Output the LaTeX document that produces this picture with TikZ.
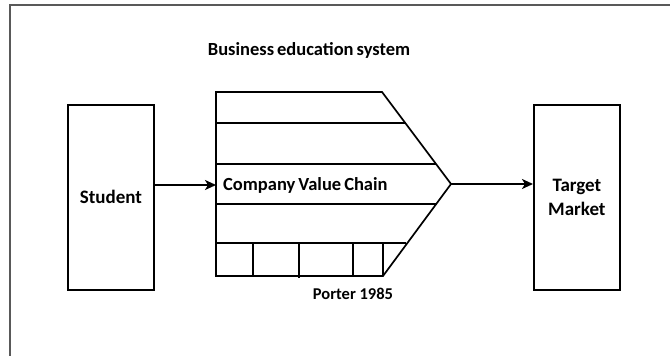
\documentclass[tikz,border=0pt]{standalone}
\usepackage{fontspec}
\setmainfont{Carlito}
\usetikzlibrary{arrows.meta}
\begin{document}
\begin{tikzpicture}[x=1pt,y=-1pt,
  box/.style={draw,line width=1.8pt,minimum width=86pt,minimum height=185pt,inner sep=0pt,anchor=north west,align=center,font=\bfseries\fontsize{19}{24}\selectfont},
  ln/.style={line width=1.7pt},
  conn/.style={line width=1.8pt,-{Stealth[length=11pt,width=10pt,inset=3pt]}},
  lbl/.style={font=\bfseries\fontsize{18.5}{22}\selectfont,inner sep=0pt}]
\useasboundingbox (0,0) rectangle (670,356);
\draw[gray!70!black,line width=1.2pt] (670,5) -- (10,5) -- (10,356);
\node[lbl] (title) at (309,50) {Business\hspace{3pt}education\hspace{3pt}system};
\node[box] (student) at (67,104) {Student};
\node[box] (target) at (533,104) {Target\\Market};
% value chain
\coordinate (vcleft) at (216,185);
\coordinate (vctip) at (451,184);
\draw[ln] (382,92) -- (216,92) -- (216,276) -- (383,276) -- (vctip) -- cycle;
\draw[ln] (216,123) -- (405,123);
\draw[ln] (216,164) -- (436,164);
\draw[ln] (216,204) -- (437,204);
\draw[ln] (216,243) -- (406,243);
\draw[ln] (253,243) -- (253,276);
\draw[ln] (299,243) -- (299,278);
\draw[ln] (353,243) -- (353,276);
\draw[ln] (383,243) -- (383,276);
\node[lbl,anchor=west] (vc) at (223,185) {Company\hspace{3pt}Value\hspace{3pt}Chain};
\node[lbl,font=\bfseries\fontsize{16.5}{20}\selectfont] (porter) at (353,294) {Porter 1985};
\draw[conn] (student.east |- vcleft) -- (vcleft);
\draw[conn] (vctip) -- (target.west |- vctip);
\end{tikzpicture}
\end{document}
